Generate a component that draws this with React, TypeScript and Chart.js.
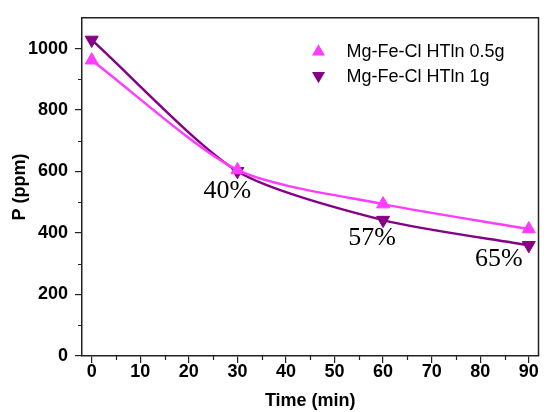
import React, { useEffect, useRef } from 'react';
import { Chart, registerables } from 'chart.js';

Chart.register(...registerables);

const timeMin = [0, 30, 60, 90];
const p05g = [962, 605, 494, 413];
const p1g = [1028, 601, 442, 360];
const seriesNames = ['Mg-Fe-Cl HTln 0.5g', 'Mg-Fe-Cl HTln 1g'];
const removalLabels = ['40%', '57%', '65%'];
const removalIndex = [1, 2, 3];
const xMajorTicks = [0, 10, 20, 30, 40, 50, 60, 70, 80, 90];
const xMinorTicks = [5, 15, 25, 35, 45, 55, 65, 75, 85];
const yMajorTicks = [0, 200, 400, 600, 800, 1000];
const yMinorTicks = [100, 300, 500, 700, 900];

const PINK = '#FF3CFF';
const PURPLE = '#850085';
const AXIS = '#222222';
const SANS = '"Liberation Sans", Arial, sans-serif';
const SERIF = '"Liberation Serif", "Times New Roman", serif';

function triPath(ctx: CanvasRenderingContext2D, x: number, y: number, r: number, down: boolean) {
  const s = down ? -1 : 1;
  ctx.beginPath();
  ctx.moveTo(x, y - s * r);
  ctx.lineTo(x + r * Math.sin((2 * Math.PI) / 3), y + s * r * 0.5);
  ctx.lineTo(x - r * Math.sin((2 * Math.PI) / 3), y + s * r * 0.5);
  ctx.closePath();
}

const framePlugin = {
  id: 'frameAndExtras',
  afterDraw(chart: any) {
    const { ctx, chartArea } = chart;
    const xs = chart.scales.x;
    const ys = chart.scales.y;
    ctx.save();
    ctx.strokeStyle = AXIS;
    ctx.lineWidth = 1.5;
    ctx.beginPath();
    ctx.moveTo(chartArea.left, chartArea.top);
    ctx.lineTo(chartArea.right, chartArea.top);
    ctx.lineTo(chartArea.right, chartArea.bottom);
    ctx.stroke();
    ctx.lineWidth = 1.2;
    ctx.beginPath();
    xMinorTicks.forEach((v) => {
      const px = Math.round(xs.getPixelForValue(v)) + 0.5;
      ctx.moveTo(px, chartArea.bottom);
      ctx.lineTo(px, chartArea.bottom + 4);
    });
    yMinorTicks.forEach((v) => {
      const py = Math.round(ys.getPixelForValue(v)) + 0.5;
      ctx.moveTo(chartArea.left, py);
      ctx.lineTo(chartArea.left - 4, py);
    });
    ctx.stroke();

    const offsets = [[-10, 20], [-11, 18], [-30, 14]];
    ctx.fillStyle = '#000';
    ctx.font = `26px ${SERIF}`;
    ctx.textAlign = 'center';
    ctx.textBaseline = 'middle';
    removalLabels.forEach((lab, i) => {
      const idx = removalIndex[i];
      const px = xs.getPixelForValue(timeMin[idx]);
      const py = ys.getPixelForValue(p1g[idx]);
      ctx.fillText(lab, px + offsets[i][0], py + offsets[i][1]);
    });

    const lx = chartArea.right - 220;
    const rows = [chartArea.top + 33, chartArea.top + 58];
    const colors = [PINK, PURPLE];
    ctx.font = `18px ${SANS}`;
    ctx.textAlign = 'left';
    ctx.textBaseline = 'middle';
    seriesNames.forEach((name, i) => {
      ctx.fillStyle = colors[i];
      triPath(ctx, lx, rows[i] + (i === 0 ? 1 : 0), 7.5, i === 1);
      ctx.fill();
      ctx.fillStyle = '#000';
      ctx.fillText(name, lx + 28, rows[i] + 1);
    });
    ctx.restore();
  },
};

export default function App() {
  const ref = useRef<HTMLCanvasElement | null>(null);
  useEffect(() => {
    document.body.style.margin = '0';
    const canvas = ref.current;
    if (!canvas) return;
    const chart = new Chart(canvas, {
      type: 'line',
      data: {
        datasets: [
          {
            label: seriesNames[0],
            data: timeMin.map((t, i) => ({ x: t, y: p05g[i] })),
            borderColor: PINK,
            backgroundColor: PINK,
            borderWidth: 2.5,
            pointStyle: 'triangle',
            pointRadius: 7.5,
            pointBorderWidth: 1,
            tension: 0.25,
          },
          {
            label: seriesNames[1],
            data: timeMin.map((t, i) => ({ x: t, y: p1g[i] })),
            borderColor: PURPLE,
            backgroundColor: PURPLE,
            borderWidth: 2.5,
            pointStyle: 'triangle',
            pointRotation: 180,
            pointRadius: 7.5,
            pointBorderWidth: 1,
            tension: 0.25,
          },
        ],
      },
      options: {
        responsive: false,
        animation: false,
        layout: { padding: { top: 13, right: 2, left: 0, bottom: 0 } },
        plugins: { legend: { display: false }, tooltip: { enabled: false } },
        scales: {
          x: {
            type: 'linear',
            min: -2,
            max: 92,
            afterBuildTicks: (s: any) => {
              s.ticks = xMajorTicks.map((v) => ({ value: v }));
            },
            afterFit: (s: any) => {
              s.height = 56;
            },
            grid: { drawOnChartArea: false, drawTicks: true, tickLength: 7, color: AXIS, lineWidth: 1.2 },
            border: { display: true, color: AXIS, width: 1.5 },
            ticks: {
              color: '#000',
              font: { family: SANS, size: 18, weight: 'bold' },
              padding: -2,
              maxRotation: 0,
              autoSkip: false,
              callback: (v: any) => String(v),
            },
            title: { display: true, text: 'Time (min)', color: '#000', font: { family: SANS, size: 18, weight: 'bold' }, padding: { top: 0, bottom: 0 } },
          },
          y: {
            type: 'linear',
            min: 0,
            max: 1100,
            afterBuildTicks: (s: any) => {
              s.ticks = yMajorTicks.map((v) => ({ value: v }));
            },
            afterFit: (s: any) => {
              s.width = 82;
            },
            grid: { drawOnChartArea: false, drawTicks: true, tickLength: 7, color: AXIS, lineWidth: 1.2 },
            border: { display: true, color: AXIS, width: 1.5 },
            ticks: {
              color: '#000',
              font: { family: SANS, size: 18, weight: 'bold' },
              padding: 7,
              autoSkip: false,
              callback: (v: any) => String(v),
            },
            title: { display: true, text: 'P (ppm)', color: '#000', font: { family: SANS, size: 18, weight: 'bold' }, padding: { top: 9, bottom: 0 } },
          },
        },
      },
      plugins: [framePlugin],
    } as any);
    return () => chart.destroy();
  }, []);
  return <canvas ref={ref} width={547} height={412} style={{ display: 'block' }} />;
}
